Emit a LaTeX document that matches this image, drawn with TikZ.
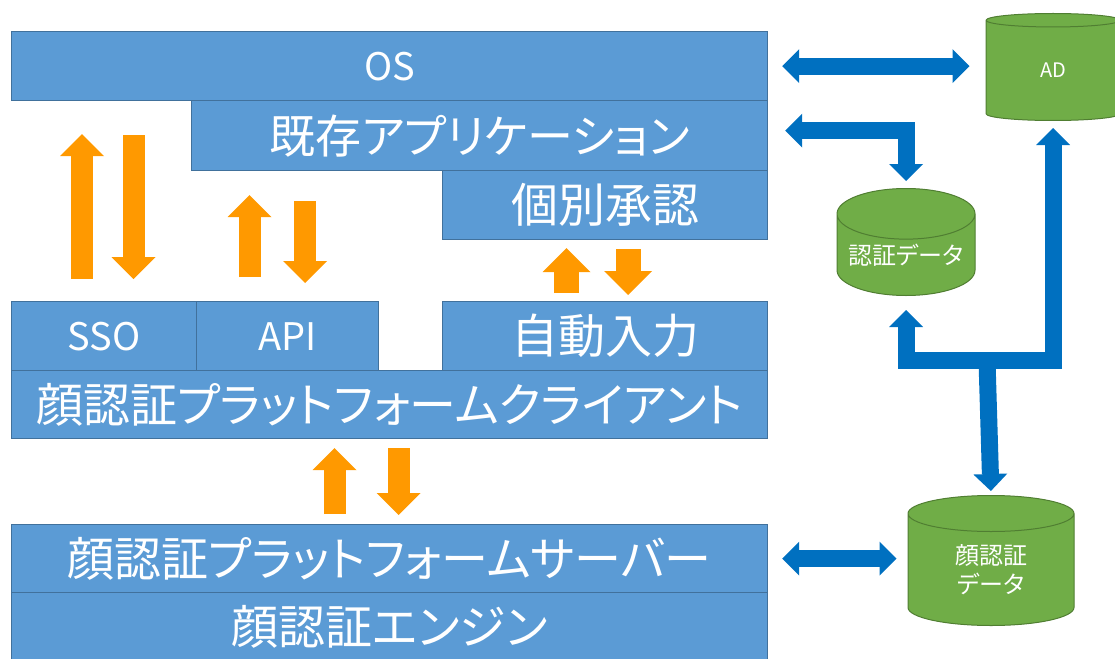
\documentclass[tikz,border=0pt]{standalone}
\usepackage{fontspec}
\usetikzlibrary{arrows.meta,shapes.geometric}
\newfontfamily\jpfont{Noto Sans CJK JP}[RawFeature=+palt]
\definecolor{boxblue}{HTML}{5B9BD5}
\definecolor{boxline}{HTML}{41719C}
\definecolor{linkblue}{HTML}{0070C0}
\definecolor{callorange}{HTML}{FF9900}
\definecolor{dbgreen}{HTML}{70AD47}
\definecolor{dbline}{HTML}{507E32}

\tikzset{
  layer/.style={draw=boxline, fill=boxblue, line width=1.2pt, text=white, anchor=north west,
    inner sep=0pt, font=\jpfont\fontsize{47pt}{50pt}\selectfont},
  latin/.style={font=\jpfont\fontsize{38pt}{42pt}\selectfont},
  db/.style={cylinder, shape border rotate=90, aspect=0.5, draw=dbline, fill=dbgreen,
    line width=1pt, text=white, inner sep=0pt, align=center, anchor=north,
    font=\jpfont\fontsize{24pt}{29pt}\selectfont},
  link/.style={draw=linkblue, line width=17pt,
    arrows={Triangle[length=17pt,width=34pt,line width=0pt]-Triangle[length=17pt,width=34pt,line width=0pt]}},
  linkone/.style={draw=linkblue, line width=17pt,
    arrows={-Triangle[length=17pt,width=34pt,line width=0pt]}},
  call/.style={draw=callorange, line width=22pt,
    arrows={-Triangle[length=22pt,width=44pt,line width=0pt]}},
  callwide/.style={draw=callorange, line width=25pt,
    arrows={-Triangle[length=24pt,width=48pt,line width=0pt]}},
}

\begin{document}
\begin{tikzpicture}[x=1pt, y=-1pt]
  \useasboundingbox (0,0) rectangle (1115,658);

  % layers
  \node (os) [layer, latin, minimum width=756pt, minimum height=69pt] at (11,31) {OS};
  \node (app) [layer, minimum width=576pt, minimum height=70pt,
    font=\jpfont\fontsize{46pt}{49pt}\selectfont] at (191,100) {既存アプリケーション};
  \node (approve) [layer, minimum width=325pt, minimum height=69pt] at (442,170) {個別承認};
  \node (sso) [layer, latin, minimum width=185pt, minimum height=69pt] at (11,301) {SSO};
  \node (api) [layer, latin, minimum width=182pt, minimum height=69pt] at (196,301) {API};
  \node (autofill) [layer, minimum width=325pt, minimum height=69pt] at (442,301) {自動入力};
  \node (client) [layer, minimum width=756pt, minimum height=68pt] at (11,370) {顔認証プラットフォームクライアント};
  \node (server) [layer, minimum width=756pt, minimum height=68pt] at (11,524) {顔認証プラットフォームサーバー};
  \node (engine) [layer, minimum width=756pt, minimum height=68pt] at (11,592) {顔認証エンジン};

  % data stores
  \node (ad) [db, aspect=0.52, minimum width=134pt, minimum height=107pt,
    font=\jpfont\fontsize{20pt}{24pt}\selectfont] at (1053,13) {AD};
  \node (authdb) [db, aspect=0.44, minimum width=138pt, minimum height=107pt] at (906,188) {認証データ};
  \node (facedb) [db, minimum width=166pt, minimum height=130pt] at (991,495) {顔認証\\データ};
  \coordinate (split) at (987,360.5);

  % blue links
  \draw [link, shorten <=14pt, shorten >=16pt] (os.east) -- (os.east -| ad.west);
  \draw [link, shorten <=17pt, shorten >=7pt] ([yshift=5pt]app.east) -| (authdb.north);
  \draw [link, shorten <=14pt, shorten >=7pt] (authdb.south) |- (split) -| (ad.south);
  \draw [linkone, shorten >=4pt] (split) -- (facedb.north);
  \draw [link, shorten <=14pt, shorten >=11pt] (server.east) -- (server.east -| facedb.west);

  % orange calls
  \draw [call, shorten <=22pt, shorten >=33pt] ([xshift=71pt]sso.north west) -- ([xshift=71pt]os.south west);
  \draw [call, shorten <=34pt, shorten >=22pt] ([xshift=122.5pt]os.south west) -- ([xshift=122.5pt]sso.north west);
  \draw [call, shorten <=24pt, shorten >=24pt] ([xshift=53.5pt]api.north west) -- ([xshift=58.5pt]app.south west);
  \draw [call, shorten <=30pt, shorten >=18pt] ([xshift=114pt]app.south west) -- ([xshift=109pt]api.north west);
  \draw [callwide, shorten <=8pt, shorten >=8pt] ([xshift=124.5pt]autofill.north west) -- ([xshift=124.5pt]approve.south west);
  \draw [callwide, shorten <=9pt, shorten >=6pt] ([xshift=186pt]approve.south west) -- ([xshift=186pt]autofill.north west);
  \draw [call, shorten <=10pt, shorten >=9pt] ([xshift=323.5pt]server.north west) -- ([xshift=323.5pt]client.south west);
  \draw [call, shorten <=9pt, shorten >=9pt] ([xshift=387.5pt]client.south west) -- ([xshift=387.5pt]server.north west);
\end{tikzpicture}
\end{document}
